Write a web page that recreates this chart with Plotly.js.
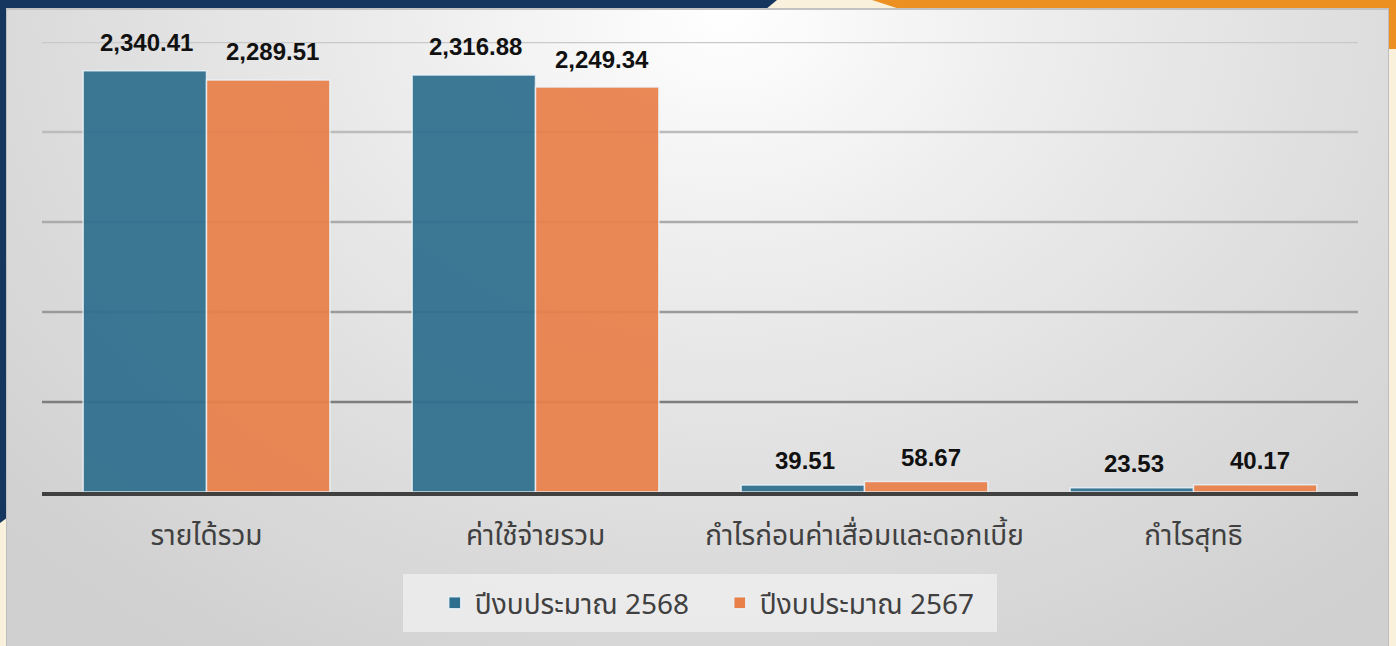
<!DOCTYPE html>
<html><head><meta charset="utf-8">
<script src="https://cdn.plot.ly/plotly-3.0.1.min.js"></script>
<style>
html,body{margin:0;padding:0;width:1396px;height:646px;overflow:hidden;background:#f9f1dc;}
.abs{position:absolute;}
#navyTop{left:0;top:0;width:777px;height:9px;background:#14365f;clip-path:polygon(0 0,100% 0,98.6% 100%,0 100%);}
#navyLeft{left:0;top:0;width:7px;height:523px;background:#14365f;clip-path:polygon(0 0,100% 0,100% 99%,0 100%);}
#orangeTop{left:872px;top:0;width:524px;height:9px;background:#ec9022;clip-path:polygon(0 0,100% 0,100% 100%,5.3% 100%);}
#orangeRight{left:1389px;top:0;width:7px;height:49px;background:#ec9022;}
#panel{left:6px;top:8px;width:1383px;height:640px;border:1px solid #bdbdbd;border-top:2px solid #c2c2c2;box-sizing:border-box;
 background:radial-gradient(ellipse 70% 120% at 52% 0%,#ffffff 0%,#ececec 35%,#dcdcdc 70%,#d0d0d0 100%);}
#chart{left:0;top:0;width:1396px;height:646px;}
</style></head>
<body>
<div id="navyTop" class="abs"></div>
<div id="navyLeft" class="abs"></div>
<div id="orangeTop" class="abs"></div>
<div id="orangeRight" class="abs"></div>
<div id="panel" class="abs"></div>
<div id="chart" class="abs"></div>
<script>
const categories = ['รายได้รวม', 'ค่าใช้จ่ายรวม', 'กำไรก่อนค่าเสื่อมและดอกเบี้ย', 'กำไรสุทธิ'];
const seriesNames = ['ปีงบประมาณ 2568', 'ปีงบประมาณ 2567'];
const values2568 = [2340.41, 2316.88, 39.51, 23.53];
const values2567 = [2289.51, 2249.34, 58.67, 40.17];
const gridVals = [500, 1000, 1500, 2000, 2500];

const colors = ['#2f6f8e', '#e9804a'];
const gridColors = ['#7e7e7e', '#9a9a9a', '#ababab', '#bcbcbc', '#c9c9c9'];

const allSeries = [values2568, values2567];
const traces = allSeries.map((vals, s) => ({
  type: 'bar',
  name: seriesNames[s],
  x: categories,
  y: vals,
  marker: {color: colors[s], opacity: 0.93, line: {color: 'rgba(235,245,250,0.85)', width: 1.5}},
  hoverinfo: 'skip'
}));

const fmt = v => v.toLocaleString('en-US', {minimumFractionDigits: 2, maximumFractionDigits: 2});
const annotations = [];
allSeries.forEach((vals, s) => {
  vals.forEach((v, i) => {
    annotations.push({
      x: categories[i], y: v, xref: 'x', yref: 'y',
      xshift: s === 0 ? -60 : 66, yshift: v < 200 ? 24 : 28, yanchor: 'middle',
      text: '<b>' + fmt(v) + '</b>', showarrow: false,
      font: {family: 'Liberation Sans, Arial, sans-serif', size: 24, color: '#111111'}
    });
  });
});

const shapes = gridVals.map((g, k) => ({
  type: 'line', xref: 'paper', yref: 'y', x0: 0, x1: 1, y0: g, y1: g,
  line: {color: gridColors[k], width: 2.5}, layer: 'below'
}));
shapes.push({
  type: 'rect', xref: 'paper', yref: 'paper', x0: 0.2743, x1: 0.7257, y0: -0.311, y1: -0.182,
  fillcolor: 'rgba(236,236,236,0.9)', line: {width: 0}, layer: 'below'
});

const layout = {
  width: 1396, height: 646,
  margin: {l: 42, r: 38, t: 42, b: 154},
  paper_bgcolor: 'rgba(0,0,0,0)', plot_bgcolor: 'rgba(0,0,0,0)',
  barmode: 'group', bargap: 0.25, bargroupgap: 0,
  font: {family: 'Noto Sans Thai, Noto Sans, sans-serif', color: '#404040'},
  xaxis: {
    type: 'category', showgrid: false, zeroline: false,
    showline: true, linecolor: '#404040', linewidth: 4,
    ticks: '', ticklabelstandoff: 15,
    tickfont: {size: 28, color: '#404040'}
  },
  yaxis: {range: [0, 2500], showgrid: false, zeroline: false, showticklabels: false, showline: false},
  legend: {
    orientation: 'h', x: 0.515, xanchor: 'center', y: -0.247, yanchor: 'middle',
    entrywidth: 240,
    bgcolor: 'rgba(0,0,0,0)', font: {size: 28, color: '#404040'}, itemclick: false
  },
  showlegend: true,
  shapes: shapes,
  annotations: annotations
};

Plotly.newPlot('chart', traces, layout, {staticPlot: true, displayModeBar: false});
</script>
</body></html>
